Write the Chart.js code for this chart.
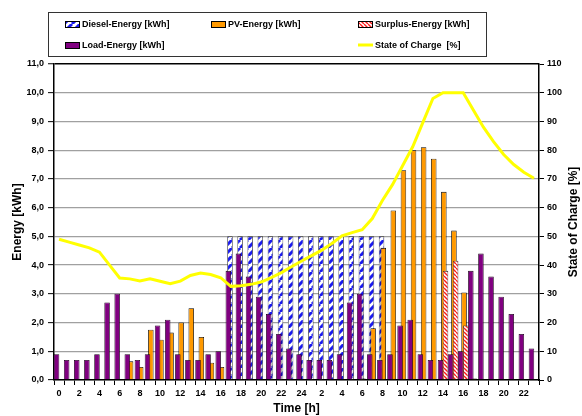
<!DOCTYPE html>
<html>
<head>
<meta charset="utf-8">
<script src="https://cdn.jsdelivr.net/npm/chart.js@4.4.1/dist/chart.umd.min.js"></script>
<style>
  body { margin: 0; background: #fff; }
  #wrap { width: 582px; height: 416px; }
</style>
</head>
<body>
<div id="wrap"><canvas id="energyChart" width="582" height="416"></canvas></div>
<script>
// hours over two days (0..24, then 1..23)
const hours = ['0','1','2','3','4','5','6','7','8','9','10','11','12','13','14','15','16','17','18','19','20','21','22','23','24',
  '1','2','3','4','5','6','7','8','9','10','11','12','13','14','15','16','17','18','19','20','21','22','23'];

const loadEnergy = [0.9,0.7,0.7,0.7,0.9,2.7,3.0,0.9,0.7,0.9,1.9,2.1,0.9,0.7,0.7,0.9,1.0,3.8,4.4,3.6,2.9,2.3,1.6,1.1,
  0.9,0.7,0.7,0.7,0.9,2.7,3.0,0.9,0.7,0.9,1.9,2.1,0.9,0.7,0.7,0.9,1.0,3.8,4.4,3.6,2.9,2.3,1.6,1.1];

const dieselEnergy = [0,0,0,0,0,0,0,0,0,0,0,0,0,0,0,0,0,5,5,5,5,5,5,5,
  5,5,5,5,5,5,5,5,5,0,0,0,0,0,0,0,0,0,0,0,0,0,0,0];

const pvEnergy = [0,0,0,0,0,0,0,0.65,0.45,1.75,1.4,1.65,2.0,2.5,1.5,0.6,0.45,0,0,0,0,0,0,0,
  0,0,0,0,0,0,0.05,1.8,4.6,5.9,7.3,8.0,8.1,7.7,6.55,5.2,3.05,0.05,0,0,0,0,0,0];

const surplusEnergy = [0,0,0,0,0,0,0,0,0,0,0,0,0,0,0,0,0,0,0,0,0,0,0,0,
  0,0,0,0,0,0,0,0,0,0,0,0,0,0,3.8,4.15,1.9,0,0,0,0,0,0,0];

const stateOfCharge = [49,48,47,46,44.5,40,35.5,35.2,34.5,35.2,34.4,33.5,34.4,36.4,37.2,36.7,35.6,32.6,32.8,33.3,34.1,35.6,37.4,39.4,
  41.4,43.3,45.2,47.5,50.2,51.3,52.3,56.2,62.5,68,74.6,81.2,89.6,98,100,100,100,94,88,83,78.5,75,72.3,70.2];

const energyTicks = [0,1,2,3,4,5,6,7,8,9,10,11];

const FONT = '"Liberation Sans", Arial, sans-serif';
Chart.defaults.font.family = FONT;
Chart.defaults.color = '#000';

// diagonal stripe fill for the hatched series
function stripes(color, size, width, slash) {
  const c = document.createElement('canvas');
  c.width = size;
  c.height = size;
  const g = c.getContext('2d');
  g.fillStyle = '#fff';
  g.fillRect(0, 0, size, size);
  g.strokeStyle = color;
  g.lineWidth = width;
  g.beginPath();
  for (let k = -1; k <= 1; k++) {
    if (slash) {
      g.moveTo(k * size, size);
      g.lineTo(k * size + size, 0);
    } else {
      g.moveTo(k * size, 0);
      g.lineTo(k * size + size, size);
    }
  }
  g.stroke();
  return g.createPattern(c, 'repeat');
}

const dieselFill = stripes('#1a1aee', 8, 3, true);
const surplusFill = stripes('#ff1a1a', 4, 1.4, false);

// legend slots: dataset index, x, y
const legendSlots = [[1, 65, 24], [2, 211, 24], [3, 358, 24], [0, 65, 45], [4, 358, 45]];

const customLegend = {
  id: 'customLegend',
  // bars: diesel at the back, then PV, surplus, load in front; line last
  beforeDatasetsDraw(chart) {
    const ctx = chart.ctx;
    const area = chart.chartArea;
    ctx.save();
    ctx.beginPath();
    ctx.rect(area.left, area.top - 3, area.width, area.height + 3);
    ctx.clip();
    [1, 2, 3, 0, 4].forEach(i => chart.getDatasetMeta(i).controller.draw());
    ctx.restore();
    return false;
  },
  afterDraw(chart) {
    const ctx = chart.ctx;
    ctx.save();
    ctx.strokeStyle = '#333';
    ctx.lineWidth = 1;
    ctx.strokeRect(48.5, 12.5, 438, 44);

    ctx.font = 'bold 9px ' + FONT;
    ctx.textBaseline = 'middle';
    ctx.textAlign = 'left';
    legendSlots.forEach(([di, x, y]) => {
      const ds = chart.data.datasets[di];
      if (ds.type === 'line') {
        ctx.strokeStyle = ds.borderColor;
        ctx.lineWidth = 3;
        ctx.beginPath();
        ctx.moveTo(x, y);
        ctx.lineTo(x + 15, y);
        ctx.stroke();
      } else {
        ctx.fillStyle = ds.backgroundColor;
        ctx.fillRect(x, y - 3, 15, 6);
        ctx.strokeStyle = '#000';
        ctx.lineWidth = 1;
        ctx.strokeRect(x + 0.5, y - 2.5, 14, 6);
      }
      ctx.fillStyle = '#000';
      ctx.fillText(ds.label, x + 17, y + 0.5);
    });

    // right axis title, reading bottom to top
    ctx.translate(574, (chart.chartArea.top + chart.chartArea.bottom) / 2);
    ctx.rotate(-Math.PI / 2);
    ctx.font = 'bold 12px ' + FONT;
    ctx.textAlign = 'center';
    ctx.fillText('State of Charge [%]', 0, 0);
    ctx.restore();
  }
};

const ctx = document.getElementById('energyChart').getContext('2d');

new Chart(ctx, {
  type: 'bar',
  data: {
    labels: hours,
    datasets: [
      { label: 'Load-Energy [kWh]', data: loadEnergy, backgroundColor: '#800080', borderColor: '#1a001a', borderWidth: 0.8 },
      { label: 'Diesel-Energy [kWh]', data: dieselEnergy, backgroundColor: dieselFill, borderColor: '#333', borderWidth: 0.8 },
      { label: 'PV-Energy [kWh]', data: pvEnergy, backgroundColor: '#ff9900', borderColor: '#000', borderWidth: 0.8 },
      { label: 'Surplus-Energy [kWh]', data: surplusEnergy, backgroundColor: surplusFill, borderColor: '#333', borderWidth: 0.8 },
      { type: 'line', label: 'State of Charge  [%]', data: stateOfCharge, yAxisID: 'y1', borderColor: '#ffff00',
        borderWidth: 3, pointRadius: 0, tension: 0, fill: false }
    ]
  },
  options: {
    responsive: false,
    animation: false,
    devicePixelRatio: 1,
    layout: { padding: { top: 64, left: 0, right: 0, bottom: 0 } },
    datasets: {
      bar: { categoryPercentage: 0.66, barPercentage: 3.3 }
    },
    plugins: {
      legend: { display: false },
      tooltip: { enabled: false }
    },
    scales: {
      x: {
        offset: true,
        grid: { offset: true, drawOnChartArea: false, drawTicks: true, tickLength: 5, tickColor: '#000', tickWidth: 1 },
        border: { color: '#000', width: 1.5 },
        ticks: {
          autoSkip: false, maxRotation: 0, minRotation: 0, padding: 3,
          font: { size: 9, weight: 'bold' },
          callback: (v, i) => (i % 2 === 0 ? hours[i] : '')
        },
        title: { display: true, text: 'Time [h]', font: { size: 12, weight: 'bold' }, padding: 0 },
        afterFit: s => { s.height = 36; }
      },
      y: {
        position: 'left',
        min: energyTicks[0],
        max: energyTicks[energyTicks.length - 1],
        ticks: {
          stepSize: 1, padding: 4,
          font: { size: 9, weight: 'bold' },
          callback: v => v.toFixed(1).replace('.', ',')
        },
        grid: {
          color: c => (c.tick && c.tick.value === 11 ? '#000' : '#a0a0a0'),
          lineWidth: c => (c.tick && c.tick.value === 11 ? 1.5 : 1.3),
          tickColor: '#000', tickLength: 6, tickWidth: 1
        },
        border: { color: '#000', width: 1.5 },
        title: { display: true, text: 'Energy [kWh]', font: { size: 12, weight: 'bold' }, padding: { top: 10, bottom: 0 } },
        afterFit: s => { s.width = 54; }
      },
      y1: {
        position: 'right',
        min: 0,
        max: 110,
        ticks: { stepSize: 10, padding: 3, font: { size: 9, weight: 'bold' } },
        grid: { drawOnChartArea: false, tickColor: '#000', tickLength: 5, tickWidth: 1 },
        border: { color: '#000', width: 1.5 },
        afterFit: s => { s.width = 43; }
      }
    }
  },
  plugins: [customLegend]
});
</script>
</body>
</html>
